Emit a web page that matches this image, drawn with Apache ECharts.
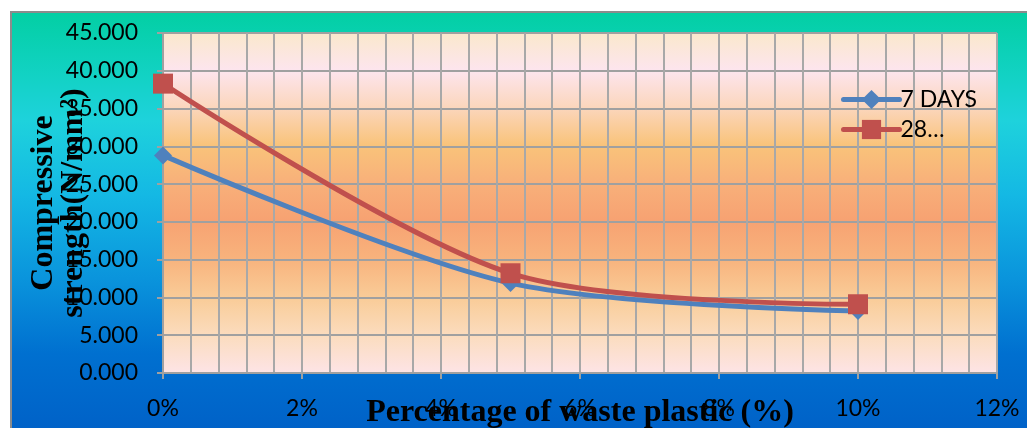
<!DOCTYPE html>
<html>
<head>
<meta charset="utf-8">
<script src="https://cdn.jsdelivr.net/npm/echarts@6/dist/echarts.min.js"></script>
<style>
  html, body { margin: 0; padding: 0; background: #fff; }
  #back {
    position: absolute; left: 10px; top: 11px; width: 1017px; height: 417px;
    box-sizing: border-box; border-left: 2px solid #8c8c8c; border-top: 2px solid #8c8c8c;
    background: linear-gradient(to bottom, #03cfa4 0%, #12d2c4 15%, #1ed2dc 26%, #14b8e4 44%, #0a94dc 64%, #0070d0 82%, #0062c8 100%);
  }
  #main { position: absolute; left: 0; top: 0; width: 1027px; height: 428px; }
</style>
</head>
<body>
<div id="back"></div>
<div id="main"></div>
<script>
  // percentage of waste plastic
  var plastic = [0, 5, 10]
  var days7 = [28.8, 11.9, 8.2]
  var days28 = [38.3, 13.2, 9.1]
  var xTicks = [0, 2, 4, 6, 8, 10, 12]
  var yTicks = [0, 5, 10, 15, 20, 25, 30, 35, 40, 45]

  var myChart = echarts.init(document.getElementById('main'))

  var labelFont = 'Lato, "Open Sans", sans-serif'
  var titleFont = '"Liberation Serif", "DejaVu Serif", serif'

  var option = {
    animation: false,
    grid: {
      left: 163, right: 30, top: 33, bottom: 55,
      outerBoundsMode: 'none',
      containLabel: false,
      show: true,
      borderWidth: 0,
      backgroundColor: new echarts.graphic.LinearGradient(0, 0, 0, 1, [
        { offset: 0, color: '#fae8cc' },
        { offset: 0.11, color: '#fde5ee' },
        { offset: 0.22, color: '#fbd6bc' },
        { offset: 0.33, color: '#f9c37a' },
        { offset: 0.44, color: '#f8b07a' },
        { offset: 0.55, color: '#f7a272' },
        { offset: 0.66, color: '#f8b27c' },
        { offset: 0.78, color: '#f9cc98' },
        { offset: 0.89, color: '#fbdcbe' },
        { offset: 1, color: '#fde4e6' }
      ])
    },
    legend: {
      orient: 'vertical',
      left: 836,
      top: 83,
      itemWidth: 56,
      itemHeight: 24,
      itemGap: 7,
      lineStyle: { width: 5, cap: 'round' },
      formatter: function (name) { return name === '28 DAYS' ? '28\u2026' : name },
      textStyle: { fontFamily: labelFont, fontSize: 23, color: '#000', padding: [0, 0, 0, -4] },
      data: ['7 DAYS', '28 DAYS']
    },
    xAxis: {
      type: 'value',
      min: xTicks[0],
      max: xTicks[xTicks.length - 1],
      interval: 2,
      name: 'Percentage of waste plastic (%)',
      nameLocation: 'middle',
      nameGap: 24,
      nameMoveOverlap: false,
      nameTextStyle: { fontFamily: titleFont, fontWeight: 'bold', fontSize: 32, color: '#000' },
      axisLine: { show: true, lineStyle: { color: '#a0a0a0', width: 2 } },
      axisTick: { show: true, length: 6, lineStyle: { color: '#a0a0a0', width: 2 } },
      axisLabel: { margin: 24, fontFamily: labelFont, fontSize: 23, color: '#000', formatter: '{value}%' },
      splitLine: { show: true, lineStyle: { color: '#a8a8a8', width: 2 } },
      minorTick: { show: false, splitNumber: 5 },
      minorSplitLine: { show: true, lineStyle: { color: '#a8a8a8', width: 2 } },
      z: 3
    },
    yAxis: {
      type: 'value',
      min: yTicks[0],
      max: yTicks[yTicks.length - 1],
      interval: 5,
      name: 'Compressive\nstrength(N/mm\u00b2)',
      nameLocation: 'middle',
      nameRotate: 90,
      nameGap: 74,
      nameMoveOverlap: false,
      nameTextStyle: { fontFamily: titleFont, fontWeight: 'bold', fontSize: 32, lineHeight: 30, color: '#000' },
      axisLine: { show: true, lineStyle: { color: '#a0a0a0', width: 2 } },
      axisTick: { show: true, length: 6, lineStyle: { color: '#a0a0a0', width: 2 } },
      axisLabel: {
        margin: 25, fontFamily: labelFont, fontSize: 23, color: '#000',
        formatter: function (v) { return v.toFixed(3) }
      },
      splitLine: { show: true, lineStyle: { color: '#a0a0a0', width: 2 } },
      z: 3
    },
    series: [
      {
        name: '7 DAYS',
        type: 'line',
        smooth: 0.3,
        symbol: 'diamond',
        symbolSize: 18,
        itemStyle: { color: '#4f81bd' },
        lineStyle: { color: '#4f81bd', width: 5 },
        data: plastic.map(function (p, i) { return [p, days7[i]] }),
        z: 4
      },
      {
        name: '28 DAYS',
        type: 'line',
        smooth: 0.3,
        symbol: 'rect',
        symbolSize: 20,
        itemStyle: { color: '#c0504d' },
        lineStyle: { color: '#c0504d', width: 5 },
        data: plastic.map(function (p, i) { return [p, days28[i]] }),
        z: 5
      }
    ]
  }

  myChart.setOption(option)
</script>
</body>
</html>
